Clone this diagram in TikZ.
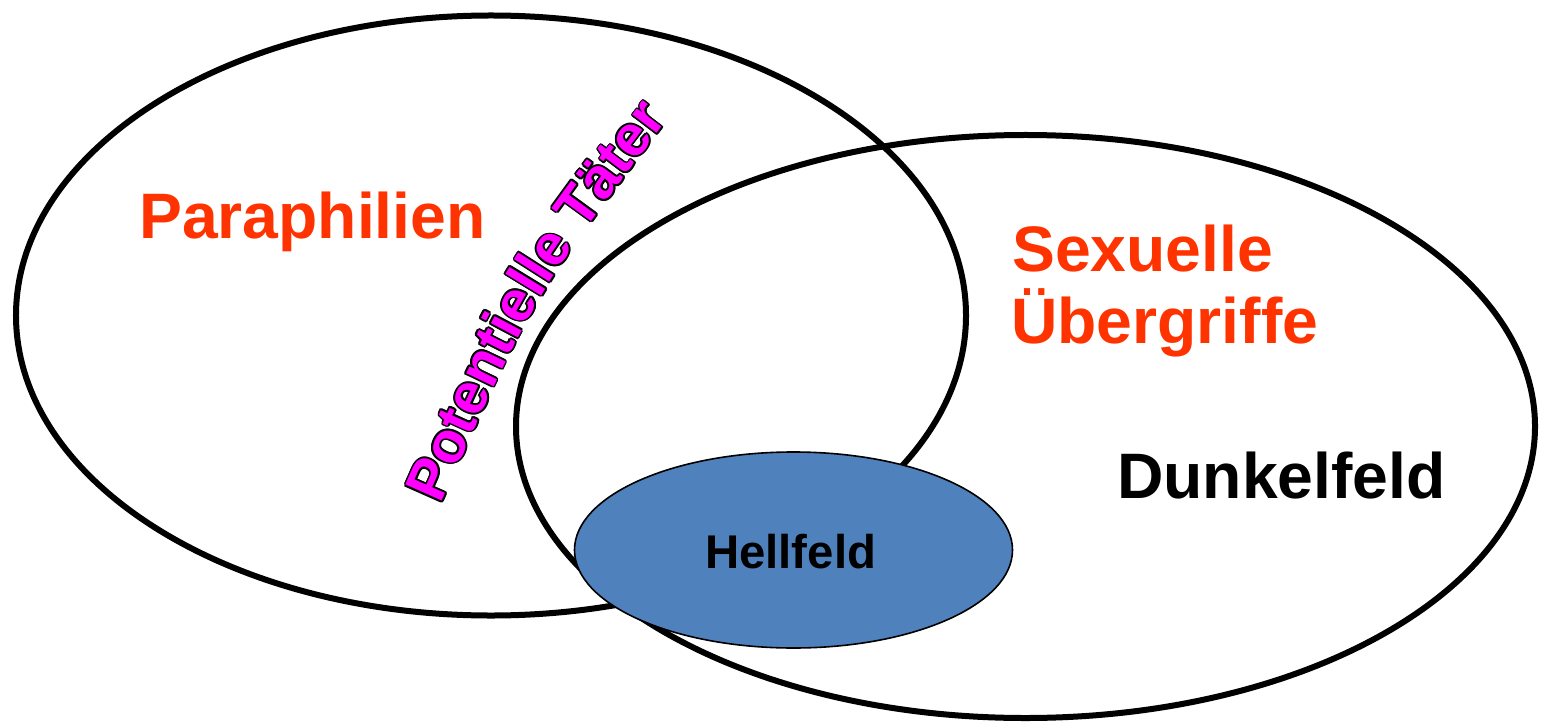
\documentclass[tikz,border=0pt]{standalone}
\usepackage{fontspec}
\setmainfont{Liberation Sans}
\usetikzlibrary{shapes.geometric,decorations.text}
\definecolor{labred}{HTML}{FF3300}
\definecolor{hellblue}{HTML}{4F81BD}
\definecolor{potmag}{HTML}{FF00FF}
\newcommand\potfont{\fontsize{58}{64}\selectfont\bfseries}
\begin{document}
\begin{tikzpicture}[x=1bp,y=-1bp,
  setring/.style={ellipse, draw=black, line width=6bp, inner sep=0pt},
  hellring/.style={ellipse, draw=black, line width=1.6bp, fill=hellblue, inner sep=0pt},
  bigtext/.style={font=\fontsize{64.5}{70}\selectfont\bfseries, inner sep=0pt, anchor=base west},
  smalltext/.style={font=\fontsize{47.5}{52}\selectfont\bfseries, inner sep=0pt, anchor=base west}
]
\useasboundingbox (0,0) rectangle (1541,725);
\node[setring, minimum width=950bp, minimum height=600bp] (para) at (491,315.5) {};
\node[setring, minimum width=1019bp, minimum height=583bp] (sex) at (1025.5,426.5) {};
\node[hellring, minimum width=438bp, minimum height=196bp] (hell) at (793.5,550) {};
\node[bigtext, text=labred] (paraL) at (139,238) {Paraphilien};
\node[bigtext, text=labred] (sexL1) at (1012,271) {Sexuelle};
\node[bigtext, text=labred] (sexL2) at (1011,343) {Übergriffe};
\node[bigtext, text=black] (dunkL) at (1117,498) {Dunkelfeld};
\node[smalltext, text=black] (hellL) at (705,568) {Hellfeld};
\coordinate (potA) at (433,522);
\coordinate (potC) at (532,298);
\coordinate (potB) at (680,104);
\foreach \a in {0,30,...,330} {
  \path[decorate, decoration={text along path, text={|\potfont|Potentielle Täter}, text align=center, text color=black}]
    ([shift={(\a:1.7bp)}]potA) .. controls ([shift={(\a:1.7bp)}]potC) .. ([shift={(\a:1.7bp)}]potB);
}
\path[decorate, decoration={text along path, text={|\potfont|Potentielle Täter}, text align=center, text color=potmag}]
  (potA) .. controls (potC) .. (potB);
\end{tikzpicture}
\end{document}
